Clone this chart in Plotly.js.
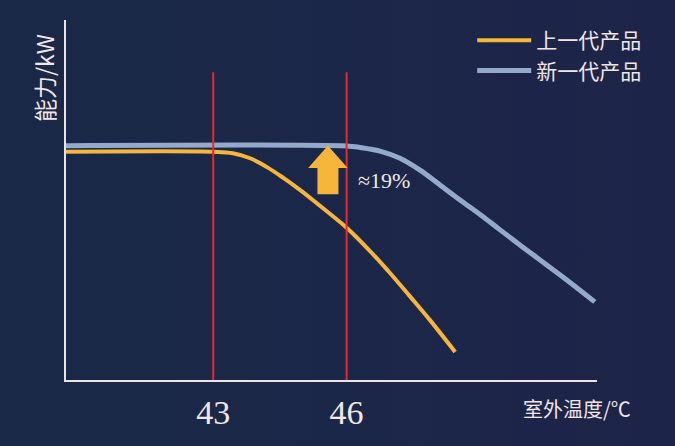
<!DOCTYPE html>
<html>
<head>
<meta charset="utf-8">
<script src="https://cdn.plot.ly/plotly-3.0.1.min.js"></script>
<style>
html,body{margin:0;padding:0;background:linear-gradient(90deg,#1a2947 0%,#1b2748 50%,#1d2449 100%);}
#chart{width:675px;height:446px;}
</style>
</head>
<body>
<div id="chart"></div>
<script>
// Data (outdoor temperature °C vs capacity, arbitrary units)
const seriesNames = ['上一代产品', '新一代产品'];
const oldX = [39.69, 43.00, 43.44, 43.83, 44.20, 44.57, 44.95, 45.33, 45.70, 46.00, 46.52, 46.97, 47.42, 47.87, 48.44];
const oldY = [6.34, 6.34, 6.30, 6.16, 5.92, 5.62, 5.28, 4.91, 4.54, 4.23, 3.59, 2.98, 2.33, 1.67, 0.78];
const newX = [39.69, 46.00, 46.30, 46.75, 47.20, 47.65, 48.10, 48.55, 49.00, 49.45, 50.20, 50.95, 51.58];
const newY = [6.51, 6.50, 6.46, 6.36, 6.16, 5.83, 5.42, 5.00, 4.60, 4.17, 3.47, 2.78, 2.17];
const markerTemps = [43, 46];
const tickLabels = ['43', '46'];
const markerTop = 8.55;
const gainLabel = '≈19%';
const arrowX = 45.58, arrowTop = 6.47, arrowHeadBase = 5.92, arrowBottom = 5.19;
const xTitle = '室外温度/℃';
const yTitle = '能力/kW';

const textColor = '#f3e6e6';
const cjk = '"Noto Sans CJK SC", "Noto Sans", sans-serif';
const serif = '"Liberation Serif", "DejaVu Serif", serif';

const traces = [
  {x: oldX, y: oldY, name: seriesNames[0], mode: 'lines',
   line: {color: '#f6b63c', width: 4, shape: 'spline', smoothing: 1}},
  {x: newX, y: newY, name: seriesNames[1], mode: 'lines',
   line: {color: '#93aacd', width: 5, shape: 'spline', smoothing: 1}}
];
markerTemps.forEach(t => {
  traces.push({x: [t, t], y: [0, markerTop], mode: 'lines', showlegend: false,
    hoverinfo: 'skip', line: {color: '#e8282b', width: 2}});
});

// arrow shape built from anchor values
const hw = 0.394, sw = 0.214;
const arrowPath = `M${arrowX},${arrowTop} L${arrowX+hw},${arrowHeadBase} L${arrowX+sw},${arrowHeadBase} ` +
  `L${arrowX+sw},${arrowBottom} L${arrowX-sw},${arrowBottom} L${arrowX-sw},${arrowHeadBase} ` +
  `L${arrowX-hw},${arrowHeadBase} Z`;

const layout = {
  width: 675, height: 446,
  margin: {l: 66, r: 78, t: 20, b: 66},
  paper_bgcolor: 'rgba(0,0,0,0)',
  plot_bgcolor: 'rgba(0,0,0,0)',
  showlegend: true,
  legend: {x: 0.765, y: 1.0, xanchor: 'left', yanchor: 'top',
    font: {family: cjk, size: 21, color: textColor},
    bgcolor: 'rgba(0,0,0,0)', itemwidth: 54, tracegroupgap: 0},
  xaxis: {range: [39.69, 51.63], showgrid: false, zeroline: false,
    showline: true, linecolor: '#efe2e2', linewidth: 2,
    tickvals: markerTemps, ticktext: tickLabels, ticks: '',
    tickfont: {family: serif, size: 34, color: textColor},
    ticklabelstandoff: 1, fixedrange: true},
  yaxis: {range: [0, 10], showgrid: false, zeroline: false,
    showline: true, linecolor: '#efe2e2', linewidth: 2,
    showticklabels: false, ticks: '', fixedrange: true},
  shapes: [{type: 'path', path: arrowPath, xref: 'x', yref: 'y',
    fillcolor: '#f6b63c', line: {color: '#f6b63c', width: 2}, layer: 'above'}],
  annotations: [
    {text: gainLabel, x: 46.22, y: 5.55, xref: 'x', yref: 'y', xanchor: 'left', yanchor: 'middle',
     showarrow: false, font: {family: serif, size: 22, color: textColor}},
    {text: xTitle, x: 0.962, y: -0.078, xref: 'paper', yref: 'paper', xanchor: 'center', yanchor: 'middle',
     showarrow: false, font: {family: cjk, size: 20, color: textColor}},
    {text: yTitle, x: -0.0414, y: 0.839, xref: 'paper', yref: 'paper', xanchor: 'center', yanchor: 'middle',
     textangle: -90, showarrow: false, font: {family: cjk, size: 23, color: textColor}}
  ]
};

Plotly.newPlot('chart', traces, layout, {displayModeBar: false, staticPlot: true});
</script>
</body>
</html>
